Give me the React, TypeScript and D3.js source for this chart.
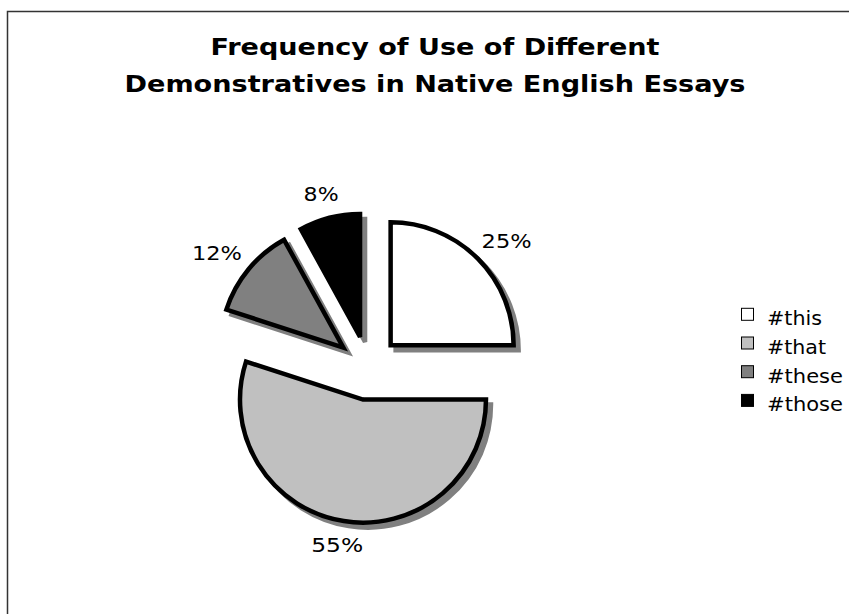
import React from "react";
import * as d3 from "d3";

const categories = ["#this", "#that", "#these", "#those"];
const values = [25, 55, 12, 8];
const titleLines = ["Frequency of Use of Different", "Demonstratives in Native English Essays"];

const fills = ["#ffffff", "#c0c0c0", "#808080", "#000000"];
const labelWidths = [50, 52, 50, 35];
const legendWidths = [55, 59, 76, 76];
const titleWidths = [449, 621];

const W = 849;
const H = 614;
const cx = 368;
const cy = 368;
const R = 123;
const explode = 32;
const gap = 16;
const FONT = "'DejaVu Sans', Verdana, sans-serif";

export default function App() {
  const total = d3.sum(values);
  const pie = d3.pie<number>().sort(null).startAngle(0).endAngle(2 * Math.PI);
  const arcs = pie(values);
  const arc = d3.arc<d3.PieArcDatum<number>>().innerRadius(0).outerRadius(R);

  const slices = arcs.map((a, i) => {
    const mid = (a.startAngle + a.endAngle) / 2;
    const ox = cx + explode * Math.sin(mid);
    const oy = cy - explode * Math.cos(mid);
    const w = labelWidths[i];
    const h = 17;
    const lx = ox + (R + gap) * Math.sin(mid) + (w / 2) * Math.sin(mid);
    const ly = oy - (R + gap) * Math.cos(mid) - (h / 2) * Math.cos(mid);
    return { a, i, ox, oy, lx, ly, path: arc(a) || "" };
  });

  const legendY = d3.scaleLinear().domain([0, 1]).range([314.3, 343]);

  return (
    <svg width={W} height={H} style={{ position: "absolute", left: 0, top: 0, background: "#fff" }}>
      <rect x={7.5} y={11.5} width={900} height={700} fill="#fff" stroke="#333" strokeWidth={1.5} />
      {titleLines.map((t, i) => (
        <text
          key={t}
          x={435}
          y={55 + i * 37}
          textAnchor="middle"
          fontFamily={FONT}
          fontWeight="bold"
          fontSize={23}
          textLength={titleWidths[i]}
          lengthAdjust="spacingAndGlyphs"
          fill="#000"
        >
          {t}
        </text>
      ))}
      {slices.map((s) => (
        <path
          key={"sh" + s.i}
          d={s.path}
          transform={`translate(${s.ox + 5},${s.oy + 5})`}
          fill="#808080"
          stroke="#808080"
          strokeWidth={4.5}
          strokeLinejoin="miter"
        />
      ))}
      {slices.map((s) => (
        <path
          key={"sl" + s.i}
          d={s.path}
          transform={`translate(${s.ox},${s.oy})`}
          fill={fills[s.i]}
          stroke="#000"
          strokeWidth={4.5}
          strokeLinejoin="miter"
        />
      ))}
      {slices.map((s) => (
        <text
          key={"lb" + s.i}
          x={s.lx}
          y={s.ly}
          dy="0.36em"
          textAnchor="middle"
          fontFamily={FONT}
          fontSize={19}
          textLength={labelWidths[s.i]}
          lengthAdjust="spacingAndGlyphs"
          fill="#000"
        >
          {Math.round((values[s.i] / total) * 100) + "%"}
        </text>
      ))}
      {categories.map((c, i) => {
        const y = legendY(i);
        return (
          <g key={c}>
            <rect x={741.5} y={y - 6} width={12} height={12} fill={fills[i]} stroke="#000" strokeWidth={1} />
            <text
              x={767}
              y={y + 10.8}
              fontFamily={FONT}
              fontSize={19}
              textLength={legendWidths[i]}
              lengthAdjust="spacingAndGlyphs"
              fill="#000"
            >
              {c}
            </text>
          </g>
        );
      })}
    </svg>
  );
}
